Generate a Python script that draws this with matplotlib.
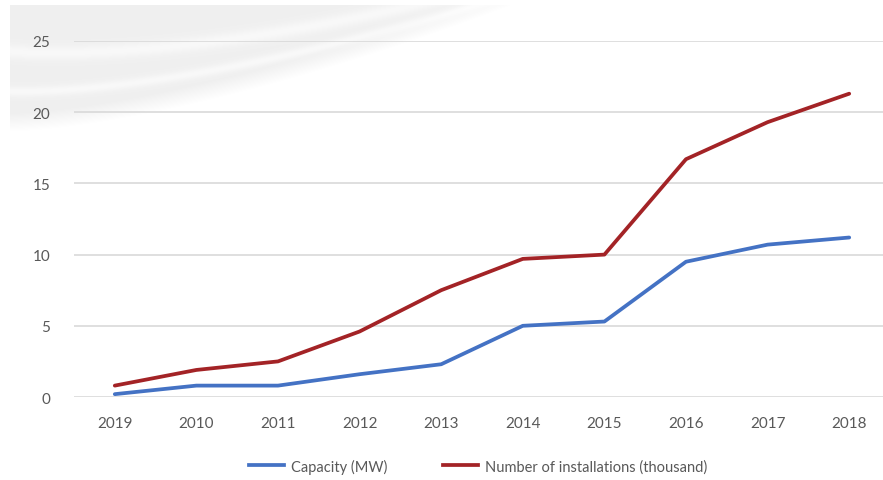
import numpy as np
import matplotlib
matplotlib.use("Agg")
import matplotlib.pyplot as plt
from matplotlib.lines import Line2D

plt.rcParams['font.family'] = ['Lato', 'DejaVu Sans']

# Data
years = ["2019", "2010", "2011", "2012", "2013", "2014", "2015", "2016", "2017", "2018"]
capacity_mw = [0.2, 0.8, 0.8, 1.6, 2.3, 5.0, 5.3, 9.5, 10.7, 11.2]
installations_k = [0.8, 1.9, 2.5, 4.6, 7.5, 9.7, 10.0, 16.7, 19.3, 21.3]
y_ticks = [0, 5, 10, 15, 20, 25]

BLUE = "#4472C4"
RED = "#A32326"
TEXT = "#595959"
GRID = "#D9D9D9"

W, H = 883, 481
fig = plt.figure(figsize=(W / 100, H / 100), dpi=100)

# Decorative soft-grey swoosh in the upper-left corner of the chart area
yy, xx = np.mgrid[0:H, 0:W].astype(float)
t = np.clip((xx - 10) / 500.0, 0, 1)
edge = 132 - 126 * t ** 1.5
inside = (xx >= 10) & (yy >= 6) & (xx <= 515)
depth = np.clip((edge - yy) / 18.0, 0, 1)
shade = 0.06 * depth
# light streaks following the curve
for off, w in [(40, 5.0), (80, 7.0)]:
    streak_c = edge - off * (1 - 0.7 * t)
    shade -= 0.035 * np.exp(-((yy - streak_c) / w) ** 2)
shade = np.clip(shade, 0, None) * inside
rgb = 1.0 - np.repeat(shade[:, :, None], 3, axis=2)
bg = fig.add_axes([0, 0, 1, 1], zorder=0)
bg.imshow(rgb, extent=[0, W, H, 0], aspect='auto', interpolation='bilinear')
bg.set_xlim(0, W)
bg.set_ylim(H, 0)
bg.axis('off')

# Main plot
left_px, right_px = 74, 890
bottom_px, top_px = 398, 42
ax = fig.add_axes([left_px / W, 1 - bottom_px / H,
                   (right_px - left_px) / W, (bottom_px - top_px) / H], zorder=1)
ax.patch.set_alpha(0)

x = np.arange(len(years))
ax.plot(x, capacity_mw, color=BLUE, lw=2.7, solid_capstyle='round',
        solid_joinstyle='round', zorder=3)
ax.plot(x, installations_k, color=RED, lw=2.7, solid_capstyle='round',
        solid_joinstyle='round', zorder=3)

ax.set_xlim(-0.5, len(years) - 0.5)
ax.set_ylim(0, 25)
ax.set_yticks(y_ticks)
ax.set_yticklabels([str(v) for v in y_ticks])
ax.set_xticks(x)
ax.set_xticklabels(years)
ax.grid(axis='y', color=GRID, lw=1.2)
ax.set_axisbelow(True)
for s in ax.spines.values():
    s.set_visible(False)
ax.tick_params(axis='both', length=0, labelsize=11, colors=TEXT)
ax.tick_params(axis='y', pad=17)
ax.tick_params(axis='x', pad=14)

handles = [Line2D([], [], color=BLUE, lw=2.7),
           Line2D([], [], color=RED, lw=2.7)]
fig.legend(handles, ["Capacity (MW)", "Number of installations (thousand)"],
           loc='center', bbox_to_anchor=(478 / W, 1 - 467 / H), ncol=2,
           frameon=False, fontsize=10.5, labelcolor=TEXT, handlelength=2.4,
           handletextpad=0.5, columnspacing=3.8)

fig.savefig("out.png", dpi=100)
